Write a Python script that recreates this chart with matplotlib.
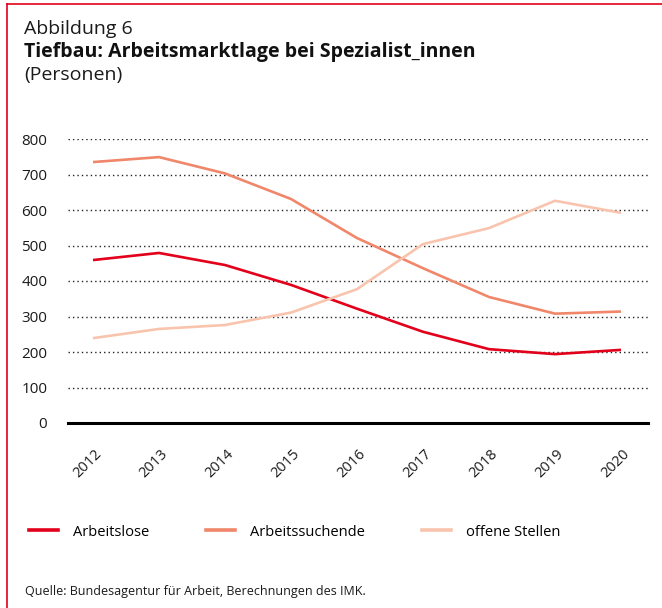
import matplotlib
matplotlib.use("Agg")
import matplotlib.pyplot as plt
import matplotlib.transforms as mtransforms
from matplotlib.lines import Line2D

plt.rcParams['font.family'] = ['Open Sans', 'DejaVu Sans']

# data
years = [2012, 2013, 2014, 2015, 2016, 2017, 2018, 2019, 2020]
arbeitslose = [459, 479, 445, 389, 322, 257, 208, 194, 206]
arbeitssuchende = [735, 749, 703, 631, 521, 436, 355, 308, 314]
offene_stellen = [239, 265, 276, 311, 377, 504, 549, 626, 592]

series_names = ['Arbeitslose', 'Arbeitssuchende', 'offene Stellen']
series_colors = ['#e2001a', '#f0876a', '#f9c4ae']
y_ticks = [0, 100, 200, 300, 400, 500, 600, 700, 800]

W, H = 662, 608
fig = plt.figure(figsize=(W / 100, H / 100), dpi=100)

# axes placed by pixel
left, right, top, bottom = 68, 648, 139, 423
ax = fig.add_axes([left / W, 1 - bottom / H, (right - left) / W, (bottom - top) / H])

for vals, name, col in zip([arbeitslose, arbeitssuchende, offene_stellen], series_names, series_colors):
    ax.plot(years, vals, color=col, lw=1.9, label=name, solid_capstyle='butt', zorder=3)

ax.set_xlim(2012 - 25 / 66, 2020 + 27 / 66)
ax.set_ylim(0, 800)
ax.set_yticks(y_ticks)
ax.set_xticks(years)
ax.set_xticklabels([str(y) for y in years], rotation=45, ha='center', va='top', fontsize=10.5)
ax.tick_params(axis='x', length=0, pad=17, colors='#1a1a1a')
ax.tick_params(axis='y', length=0, pad=15, labelsize=11, colors='#1a1a1a')

# nudge year labels a little to the left
shift = mtransforms.ScaledTranslation(-5 / 100, 0, fig.dpi_scale_trans)
for lab in ax.get_xticklabels():
    lab.set_transform(lab.get_transform() + shift)

for s in ax.spines.values():
    s.set_visible(False)
for t in y_ticks[1:]:
    ax.axhline(t, color='#222222', lw=1.0, ls=(0, (1, 2.2)), zorder=1)
ax.axhline(0, color='black', lw=2.2, zorder=2, clip_on=False)

# titles
fig.text(24 / W, 1 - 34 / H, 'Abbildung 6', fontsize=14, va='baseline', color='#1a1a1a')
fig.text(24 / W, 1 - 57 / H, 'Tiefbau: Arbeitsmarktlage bei Spezialist_innen', fontsize=14,
         fontweight='bold', va='baseline', color='#111111')
fig.text(24 / W, 1 - 80 / H, '(Personen)', fontsize=14, va='baseline', color='#1a1a1a')

handles = [Line2D([], [], color=c, lw=2.6) for c in series_colors]
fig.legend(handles, series_names, loc='center left', bbox_to_anchor=(23 / W, 1 - 532 / H),
           ncol=3, frameon=False, fontsize=10.5, handlelength=2.0, handletextpad=1.03,
           columnspacing=3.9, borderaxespad=0)

fig.text(25 / W, 1 - 591 / H, 'Quelle: Bundesagentur für Arbeit, Berechnungen des IMK.',
         fontsize=9, va='center', color='#1a1a1a')

# red frame, left and top only
fig.add_artist(Line2D([6.5 / W, 6.5 / W], [0, 1 - 4 / H], color='#e2001a', lw=1.2, transform=fig.transFigure))
fig.add_artist(Line2D([6.5 / W, 1], [1 - 4 / H, 1 - 4 / H], color='#e2001a', lw=1.2, transform=fig.transFigure))

fig.savefig('out.png', dpi=100)
